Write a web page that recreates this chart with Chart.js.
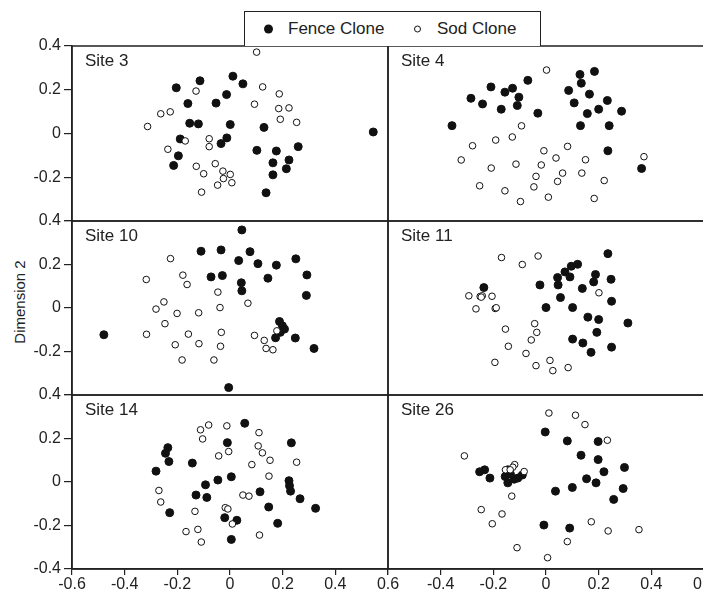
<!DOCTYPE html>
<html>
<head>
<meta charset="utf-8">
<script src="https://cdn.jsdelivr.net/npm/chart.js@4.4.0/dist/chart.umd.min.js"></script>
<style>
html, body { margin: 0; padding: 0; width: 703px; height: 591px; overflow: hidden; background: #fff; }
body { position: relative; font-family: "Liberation Sans", Arial, Helvetica, sans-serif; color: #222; }
canvas { position: absolute; left: 0; top: 0; }
#legend { position: absolute; left: 244px; top: 11px; width: 295px; height: 34px; border: 1.5px solid #222; border-bottom: none; background: #fff; z-index: 10; font-size: 17px; }
#legend span { position: absolute; top: 17px; transform: translateY(-50%); white-space: nowrap; }
#legend .dot { width: 9px; height: 9px; border-radius: 50%; background: #111; }
#legend .ring { width: 5px; height: 5px; border-radius: 50%; border: 1px solid #111; background: #fff; }
#ytitle { position: absolute; left: 19px; top: 302px; transform: translate(-50%, -50%) rotate(-90deg); font-size: 15px; white-space: nowrap; }
</style>
</head>
<body>
<div id="legend">
  <span class="dot" style="left:19px"></span><span style="left:43px">Fence Clone</span>
  <span class="ring" style="left:169px"></span><span style="left:192px">Sod Clone</span>
</div>
<div id="ytitle">Dimension 2</div>
<canvas id="p0" width="720" height="591"></canvas>
<canvas id="p1" width="720" height="591"></canvas>
<canvas id="p2" width="720" height="591"></canvas>
<canvas id="p3" width="720" height="591"></canvas>
<canvas id="p4" width="720" height="591"></canvas>
<canvas id="p5" width="720" height="591"></canvas>
<script>
// datos (dimension 1, dimension 2)
var siteNames = ['Site 3', 'Site 4', 'Site 10', 'Site 11', 'Site 14', 'Site 26'];
var xTicks = [-0.6, -0.4, -0.2, 0, 0.2, 0.4, 0.6];
var yTicks = [-0.4, -0.2, 0, 0.2, 0.4];

var site3Fence = [[-0.204,0.209],[-0.114,0.241],[0.011,0.262],[0.049,0.227],[-0.013,0.178],[-0.053,0.139],[-0.160,0.137],[-0.153,0.047],[-0.120,0.044],[0.001,0.041],[0.129,0.028],[0.544,0.007],[-0.189,-0.025],[-0.012,-0.020],[-0.034,-0.046],[-0.196,-0.102],[-0.214,-0.146],[0.102,-0.077],[0.176,-0.080],[0.259,-0.060],[0.224,-0.121],[0.163,-0.134],[0.214,-0.161],[0.163,-0.189],[0.137,-0.271]];
var site3Sod = [[0.101,0.372],[0.124,0.213],[-0.129,0.194],[0.187,0.181],[0.093,0.134],[0.185,0.114],[0.224,0.117],[0.191,0.065],[0.253,0.051],[-0.263,0.090],[-0.227,0.099],[-0.313,0.032],[-0.170,-0.034],[-0.079,-0.024],[-0.079,-0.060],[-0.236,-0.072],[-0.056,-0.138],[-0.128,-0.150],[-0.100,-0.184],[-0.027,-0.172],[0.001,-0.187],[-0.025,-0.206],[0.007,-0.225],[-0.047,-0.236],[-0.108,-0.268]];

var site4Fence = [[0.184,0.284],[0.129,0.270],[0.134,0.230],[-0.069,0.243],[-0.209,0.213],[-0.127,0.207],[-0.156,0.189],[-0.103,0.166],[-0.285,0.161],[-0.241,0.135],[-0.109,0.128],[-0.170,0.111],[-0.031,0.093],[0.086,0.197],[0.165,0.180],[0.107,0.140],[0.233,0.151],[0.200,0.111],[0.157,0.091],[0.287,0.102],[-0.357,0.036],[0.131,0.036],[0.240,0.036],[0.235,-0.079],[0.363,-0.160]];
var site4Sod = [[0.002,0.290],[-0.093,0.035],[-0.128,-0.016],[-0.191,-0.030],[-0.279,-0.056],[-0.322,-0.121],[-0.208,-0.158],[-0.114,-0.140],[-0.008,-0.079],[0.082,-0.059],[0.038,-0.112],[0.150,-0.120],[-0.018,-0.144],[-0.038,-0.196],[0.063,-0.181],[0.136,-0.181],[0.044,-0.219],[-0.046,-0.244],[-0.252,-0.239],[-0.156,-0.262],[-0.097,-0.311],[0.009,-0.291],[0.183,-0.297],[0.221,-0.215],[0.372,-0.106]];

var site10Fence = [[0.045,0.359],[-0.110,0.261],[-0.034,0.267],[0.076,0.259],[0.033,0.218],[0.106,0.204],[0.176,0.197],[0.250,0.226],[-0.072,0.143],[-0.029,0.149],[0.043,0.116],[0.045,0.079],[0.144,0.137],[0.292,0.152],[0.290,0.058],[-0.479,-0.123],[0.188,-0.062],[0.199,-0.082],[0.207,-0.097],[0.191,-0.112],[0.173,-0.137],[0.248,-0.138],[0.319,-0.186],[-0.005,-0.366]];
var site10Sod = [[-0.226,0.227],[-0.318,0.131],[-0.179,0.151],[-0.163,0.108],[-0.046,0.073],[0.068,0.022],[-0.251,0.028],[-0.281,-0.005],[-0.201,-0.025],[-0.119,-0.022],[-0.038,0.002],[-0.247,-0.072],[-0.317,-0.121],[-0.158,-0.120],[-0.033,-0.112],[-0.208,-0.169],[-0.118,-0.164],[-0.036,-0.176],[-0.182,-0.239],[-0.061,-0.239],[0.093,-0.126],[0.130,-0.149],[0.137,-0.186],[0.163,-0.192],[0.178,-0.105]];

var site11Fence = [[0.235,0.250],[0.120,0.201],[0.096,0.192],[0.072,0.166],[0.044,0.140],[0.091,0.143],[0.188,0.154],[0.181,0.120],[0.247,0.132],[-0.023,0.106],[0.046,0.106],[0.138,0.090],[-0.236,0.094],[0.055,0.048],[0.249,0.031],[0.000,0.002],[0.101,0.002],[0.159,-0.042],[0.200,-0.053],[0.311,-0.069],[0.193,-0.112],[0.101,-0.143],[0.140,-0.161],[0.249,-0.180],[0.171,-0.204]];
var site11Sod = [[-0.169,0.232],[-0.030,0.239],[-0.090,0.200],[0.201,0.070],[-0.293,0.056],[-0.250,0.053],[-0.242,0.056],[-0.246,0.050],[-0.205,0.054],[-0.266,-0.004],[-0.193,-0.002],[-0.189,0.001],[-0.154,-0.097],[-0.043,-0.072],[-0.035,-0.112],[-0.056,-0.147],[-0.143,-0.176],[-0.076,-0.209],[-0.194,-0.250],[-0.038,-0.265],[0.015,-0.241],[0.026,-0.288],[0.084,-0.274]];

var site14Fence = [[0.056,0.270],[-0.010,0.181],[0.233,0.180],[-0.236,0.158],[-0.245,0.132],[-0.232,0.094],[-0.143,0.087],[-0.281,0.050],[0.005,0.024],[-0.046,0.009],[-0.093,-0.013],[0.224,0.006],[0.226,-0.017],[0.230,-0.042],[-0.129,-0.060],[-0.088,-0.071],[0.114,-0.045],[0.266,-0.077],[0.147,-0.115],[0.325,-0.121],[-0.229,-0.141],[-0.020,-0.164],[0.026,-0.176],[0.181,-0.190],[0.005,-0.264]];
var site14Sod = [[-0.081,0.262],[-0.012,0.258],[-0.112,0.240],[-0.104,0.198],[0.110,0.227],[0.107,0.166],[0.123,0.134],[0.152,0.100],[0.253,0.091],[-0.005,0.140],[-0.043,0.120],[0.083,0.080],[0.148,0.027],[-0.270,-0.039],[-0.263,-0.092],[0.049,-0.060],[0.072,-0.065],[-0.018,-0.118],[-0.008,-0.124],[-0.133,-0.135],[0.009,-0.193],[-0.122,-0.218],[-0.167,-0.228],[-0.109,-0.276],[0.112,-0.244]];

var site26Fence = [[-0.003,0.230],[0.081,0.189],[0.198,0.186],[0.133,0.123],[0.198,0.103],[0.220,0.047],[0.298,0.067],[0.154,0.015],[0.190,-0.004],[0.100,-0.025],[0.036,-0.042],[0.293,-0.030],[0.257,-0.080],[-0.008,-0.198],[0.090,-0.212],[-0.252,0.047],[-0.233,0.056],[-0.213,0.018],[-0.155,0.025],[-0.145,0.056],[-0.145,-0.004],[-0.121,0.013],[-0.107,0.018],[-0.090,0.032],[-0.135,0.036]];
var site26Sod = [[0.011,0.317],[0.112,0.307],[0.148,0.264],[0.233,0.192],[-0.310,0.120],[-0.119,0.080],[-0.126,0.068],[-0.154,0.056],[-0.136,0.056],[-0.083,0.048],[-0.130,-0.065],[-0.246,-0.127],[-0.167,-0.147],[-0.204,-0.192],[0.172,-0.183],[0.236,-0.225],[0.353,-0.219],[0.081,-0.274],[-0.110,-0.302],[0.006,-0.348]];

var fenceSets = [site3Fence, site4Fence, site10Fence, site11Fence, site14Fence, site26Fence];
var sodSets = [site3Sod, site4Sod, site10Sod, site11Sod, site14Sod, site26Sod];

// posicion de cada panel en la pagina
var W = 720, H = 591;
var colLeft = [72, 388], colRight = [388, 704];
var rowTop = [46, 221, 395], rowBottom = [221, 395, 569];
var fontFam = '"Liberation Sans", Arial, Helvetica, sans-serif';

function fmt(v) {
    var r = Math.round(v * 10) / 10;
    return r === 0 ? '0' : String(r);
}

// marco del panel y nombre del sitio
var panelPlugin = {
    id: 'panel',
    afterDraw: function(chart, args, opts) {
        var a = chart.chartArea, ctx = chart.ctx;
        ctx.save();
        ctx.strokeStyle = '#222';
        ctx.lineWidth = 1.5;
        ctx.strokeRect(a.left, a.top, a.right - a.left, a.bottom - a.top);
        ctx.fillStyle = '#222';
        ctx.font = '17px ' + fontFam;
        ctx.textBaseline = 'middle';
        ctx.textAlign = 'left';
        ctx.fillText(opts.label, a.left + 13, a.top + 15);
        ctx.restore();
    }
};

function toPts(arr) {
    return arr.map(function(p) { return {x: p[0], y: p[1]}; });
}

for (var i = 0; i < 6; i++) {
    var col = i % 2, row = Math.floor(i / 2);
    var showY = col === 0, showX = row === 2;
    var pad = {
        left: col === 0 ? 0 : colLeft[1],
        right: W - colRight[col],
        top: rowTop[row],
        bottom: showX ? 0 : H - rowBottom[row]
    };
    (function(col, row, showX, showY) {
        new Chart(document.getElementById('p' + i).getContext('2d'), {
            type: 'scatter',
            data: {
                datasets: [{
                    label: 'Sod Clone',
                    data: toPts(sodSets[i]),
                    pointRadius: 3.3,
                    borderWidth: 1,
                    borderColor: '#111',
                    backgroundColor: '#fff'
                }, {
                    label: 'Fence Clone',
                    data: toPts(fenceSets[i]),
                    pointRadius: 4,
                    borderWidth: 1,
                    borderColor: '#111',
                    backgroundColor: '#111'
                }]
            },
            plugins: [panelPlugin],
            options: {
                responsive: false,
                animation: false,
                devicePixelRatio: 1,
                layout: { padding: pad },
                plugins: {
                    legend: { display: false },
                    tooltip: { enabled: false },
                    panel: { label: siteNames[i] }
                },
                scales: {
                    x: {
                        type: 'linear',
                        min: xTicks[0],
                        max: xTicks[xTicks.length - 1],
                        display: showX,
                        afterFit: function(s) { s.height = showX ? 22 : 0; },
                        afterBuildTicks: function(s) { s.ticks = xTicks.map(function(v) { return {value: v}; }); },
                        grid: { drawOnChartArea: false, tickLength: 6, color: '#222', lineWidth: 1.2 },
                        border: { color: '#222', width: 1.5 },
                        ticks: {
                            autoSkip: false,
                            maxRotation: 0,
                            padding: 0,
                            color: '#222',
                            font: { family: fontFam, size: 16 },
                            callback: function(v) {
                                if (col === 1 && Math.abs(v - xTicks[0]) < 1e-9) return '';
                                return fmt(v);
                            }
                        }
                    },
                    y: {
                        type: 'linear',
                        min: yTicks[0],
                        max: yTicks[yTicks.length - 1],
                        display: showY,
                        afterFit: function(s) { s.width = showY ? 72 : 0; },
                        afterBuildTicks: function(s) { s.ticks = yTicks.map(function(v) { return {value: v}; }); },
                        grid: { drawOnChartArea: false, tickLength: 8, color: '#222', lineWidth: 1.2 },
                        border: { color: '#222', width: 1.5 },
                        ticks: {
                            padding: 3,
                            color: '#222',
                            font: { family: fontFam, size: 16 },
                            callback: function(v) {
                                if (row < 2 && Math.abs(v - yTicks[0]) < 1e-9) return '';
                                return fmt(v);
                            }
                        }
                    }
                }
            }
        });
    })(col, row, showX, showY);
}
</script>
</body>
</html>
